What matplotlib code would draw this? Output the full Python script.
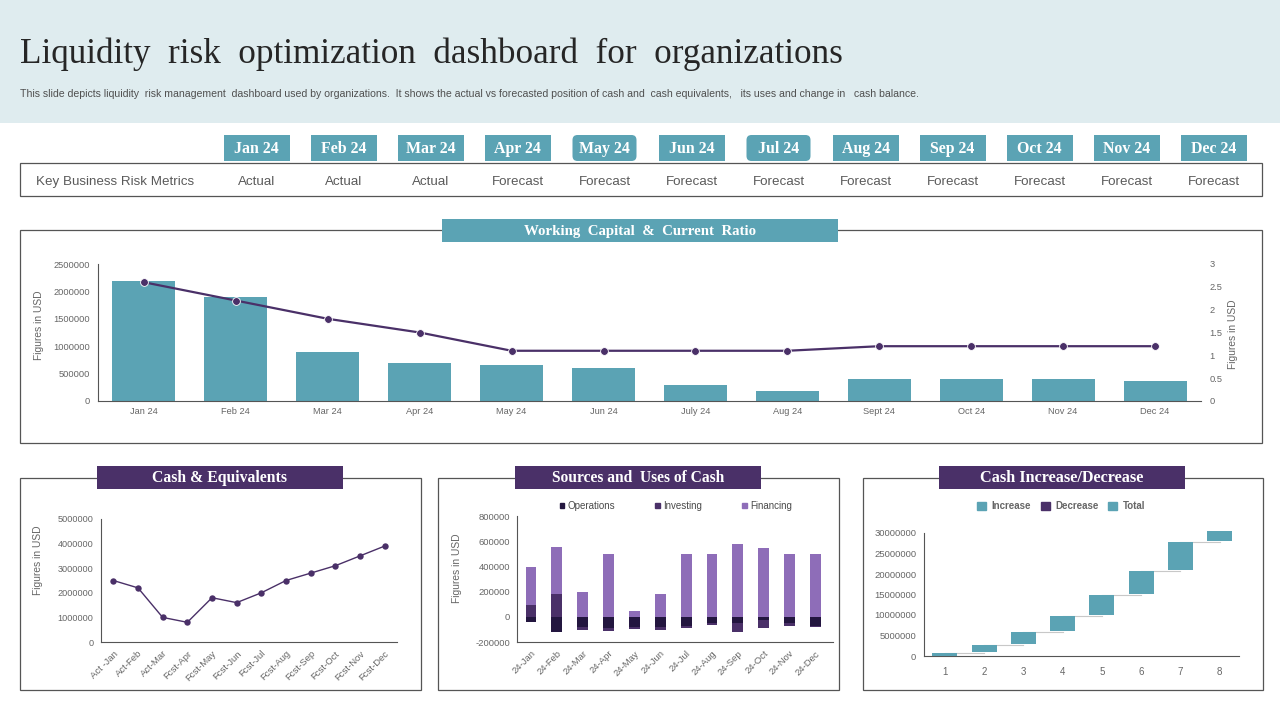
#! /usr/bin/env python

import matplotlib
matplotlib.use('Agg')
import matplotlib.pyplot as plt
from matplotlib.patches import Rectangle, FancyBboxPatch, Patch

#======================================================
# data
months = ['Jan 24','Feb 24','Mar 24','Apr 24','May 24','Jun 24','Jul 24','Aug 24','Sep 24','Oct 24','Nov 24','Dec 24']
status = ['Actual','Actual','Actual','Forecast','Forecast','Forecast','Forecast','Forecast','Forecast','Forecast','Forecast','Forecast']

wc_labels = ['Jan 24','Feb 24','Mar 24','Apr 24','May 24','Jun 24','July 24','Aug 24','Sept 24','Oct 24','Nov 24','Dec 24']
working_capital = [2190000,1890000,900000,700000,650000,600000,300000,190000,400000,400000,400000,370000]
current_ratio = [2.6,2.2,1.8,1.5,1.1,1.1,1.1,1.1,1.2,1.2,1.2,1.2]

cash_labels = ['Act -Jan','Act-Feb','Act-Mar','Fcst-Apr','Fcst-May','Fcst-Jun','Fcst-Jul','Fcst-Aug','Fcst-Sep','Fcst-Oct','Fcst-Nov','Fcst-Dec']
cash_values = [2500000,2200000,1000000,800000,1800000,1600000,2000000,2500000,2800000,3100000,3500000,3900000]

su_labels = ['24-Jan','24-Feb','24-Mar','24-Apr','24-May','24-Jun','24-Jul','24-Aug','24-Sep','24-Oct','24-Nov','24-Dec']
operations = [-40000,-120000,-80000,-90000,-80000,-80000,-75000,-50000,-50000,-25000,-50000,-75000]
investing_pos = [93000,180000,0,0,0,0,0,0,0,0,0,0]
investing_neg = [0,0,-25000,-20000,-20000,-25000,-12000,-13000,-70000,-65000,-20000,-5000]
financing = [302000,373000,196000,498000,45000,180000,498000,498000,578000,545000,498000,498000]

step_labels = ['1','2','3','4','5','6','7','8']
step_bottom = [0,1050000,3000000,6150000,10050000,15150000,21000000,28050000]
step_top = [800000,2750000,5900000,9800000,14900000,20750000,27800000,30500000]

#======================================================
TEAL = '#5BA3B4'
PURPLE = '#4A3068'
DARK = '#23163F'
LILAC = '#8E6DB8'
LINE = '#555555'
GREY = '#666666'
SANS = 'Liberation Sans'
SERIF = 'Liberation Serif'

plt.rcParams['font.family'] = SANS

fig = plt.figure(figsize=(12.8,7.2),dpi=100,facecolor='white')

# page layer in pixel coordinates
bg = fig.add_axes([0,0,1,1],zorder=0)
bg.set_xlim(0,1280)
bg.set_ylim(720,0)
bg.axis('off')

top = fig.add_axes([0,0,1,1],zorder=5)
top.set_xlim(0,1280)
top.set_ylim(720,0)
top.axis('off')
top.patch.set_alpha(0)


def px_axes(l,t,r,b):
    ax = fig.add_axes([l/1280,1-b/720,(r-l)/1280,(b-t)/720],zorder=2)
    ax.patch.set_alpha(0)
    for s in ['top','right']:
        ax.spines[s].set_visible(False)
    for s in ['left','bottom']:
        ax.spines[s].set_color(LINE)
        ax.spines[s].set_linewidth(0.8)
    ax.tick_params(length=0,labelsize=6.7,labelcolor=GREY)
    return ax


def panel(l,t,r,b):
    bg.add_patch(Rectangle((l,t),r-l,b-t,fill=False,ec=LINE,lw=0.9))


def band(l,t,r,b,text,color,size):
    top.add_patch(Rectangle((l,t),r-l,b-t,fc=color,ec='none'))
    top.text((l+r)/2,(t+b)/2+1,text,color='white',family=SERIF,fontweight='bold',
             fontsize=size,ha='center',va='center')


# header
bg.add_patch(Rectangle((0,0),1280,123,fc='#DFECEF',ec='none'))
bg.text(20,54,'Liquidity  risk  optimization  dashboard  for  organizations',family=SERIF,
        fontsize=25.3,color='#262626',ha='left',va='center')
bg.text(20,94,'This slide depicts liquidity  risk management  dashboard used by organizations.  It shows the actual vs forecasted position of cash and  cash equivalents,   its uses and change in   cash balance.',
        fontsize=7.58,color='#505050',ha='left',va='center')

# month tabs and metric row
tab_x = [256.5,343.5,430.5,517.5,604.5,691.5,778.5,865.5,952.5,1039.5,1126.5,1213.5]
for i,m in enumerate(months):
    if m in ('May 24','Jul 24'):
        bg.add_patch(FancyBboxPatch((tab_x[i]-29,138),58,20,boxstyle='round,pad=3,rounding_size=5',fc=TEAL,ec='none'))
    else:
        bg.add_patch(Rectangle((tab_x[i]-33,135),66,26,fc=TEAL,ec='none'))
    bg.text(tab_x[i],153,m,color='white',family=SERIF,fontweight='bold',fontsize=11.4,ha='center',va='baseline')
    bg.text(tab_x[i],185,status[i],color='#5A5A5A',fontsize=9.6,ha='center',va='baseline')
panel(20,163,1262,196)
bg.text(36,185,'Key Business Risk Metrics',color='#5A5A5A',fontsize=9.6,ha='left',va='baseline')

# panels
panel(20,230,1262,443)
band(442,219,838,242,'Working  Capital  &  Current  Ratio',TEAL,10.7)
panel(20,478,421,690)
band(97,466,343,489,'Cash & Equivalents',PURPLE,11.3)
panel(438,478,839,690)
band(515,466,761,489,'Sources and  Uses of Cash',PURPLE,11.2)
panel(863,478,1263,690)
band(939,466,1185,489,'Cash Increase/Decrease',PURPLE,11.7)

#=========================================================
# working capital and current ratio
ax = px_axes(98,264,1201,401)
x = list(range(12))
ax.bar(x,working_capital,width=0.685,color=TEAL)
ax.set_xlim(-0.5,11.5)
ax.set_ylim(0,2500000)
ax.set_yticks([0,500000,1000000,1500000,2000000,2500000])
ax.set_yticklabels(['0','500000','1000000','1500000','2000000','2500000'])
ax.set_xticks(x)
ax.set_xticklabels(wc_labels,va='baseline')
ax.tick_params(axis='y',pad=5.5)
ax.tick_params(axis='x',pad=9.7)

ax2 = ax.twinx()
ax2.patch.set_alpha(0)
ax2.plot(x,current_ratio,color=PURPLE,lw=1.6,marker='o',ms=5.6,mec='white',mew=0.6)
ax2.set_ylim(0,3)
ax2.set_yticks([0,0.5,1,1.5,2,2.5,3])
ax2.set_yticklabels(['0','0.5','1','1.5','2','2.5','3'])
ax2.tick_params(length=0,labelsize=6.7,labelcolor=GREY,pad=6)
for s in ax2.spines.values():
    s.set_visible(False)
bg.text(39,325,'Figures in USD',rotation=90,fontsize=7.4,color=GREY,ha='center',va='center')
bg.text(1233,334,'Figures in USD',rotation=90,fontsize=7.4,color=GREY,ha='center',va='center')

#=========================================================
# cash and equivalents
ax = px_axes(101,519,397,642)
ax.plot(x,cash_values,color=PURPLE,lw=1.0,marker='o',ms=4.6,mec=PURPLE,mew=0)
ax.set_xlim(-0.5,11.5)
ax.set_ylim(0,5000000)
ax.set_yticks([0,1000000,2000000,3000000,4000000,5000000])
ax.set_yticklabels(['0','1000000','2000000','3000000','4000000','5000000'])
ax.tick_params(axis='y',labelsize=6.6,pad=5.5)
ax.set_xticks(x)
ax.set_xticklabels(cash_labels,rotation=45,ha='right',rotation_mode='anchor',fontsize=6.8)
ax.tick_params(axis='x',pad=5)
bg.text(38,560,'Figures in USD',rotation=90,fontsize=7.4,color=GREY,ha='center',va='center')

#=========================================================
# sources and uses of cash
ax = px_axes(517,516,833,642)
w = 0.42
ax.bar(x,operations,width=w,color=DARK)
ax.bar(x,investing_neg,width=w,bottom=operations,color=PURPLE)
ax.bar(x,investing_pos,width=w,color=PURPLE)
ax.bar(x,financing,width=w,bottom=investing_pos,color=LILAC)
ax.set_xlim(-0.54,11.68)
ax.set_ylim(-200000,800000)
ax.set_yticks([-200000,0,200000,400000,600000,800000])
ax.set_yticklabels(['-200000','0','200000','400000','600000','800000'])
ax.tick_params(axis='y',labelsize=6.8,pad=5)
ax.set_xticks(x)
ax.set_xticklabels(su_labels,rotation=45,ha='right',rotation_mode='anchor',fontsize=6.8)
ax.tick_params(axis='x',pad=5)
bg.text(457,568,'Figures in USD',rotation=90,fontsize=7.4,color=GREY,ha='center',va='center')
handles = [Patch(color=DARK,label='Operations'),Patch(color=PURPLE,label='Investing'),Patch(color=LILAC,label='Financing')]
fig.legend(handles=handles,ncol=3,loc='center',bbox_to_anchor=(676/1280,1-506/720),frameon=False,
           fontsize=7.0,handlelength=0.5,handleheight=0.5,handletextpad=0.35,columnspacing=4.1,labelcolor='#4A4A4A')

#=========================================================
# cash increase / decrease waterfall
ax = px_axes(924,533,1239,656)
xs = list(range(8))
heights = [b-a for a,b in zip(step_bottom,step_top)]
ax.bar(xs,heights,bottom=step_bottom,width=0.635,color=TEAL,clip_on=False,zorder=3)
for i in xs[:-1]:
    ax.plot([i,i+1],[step_top[i],step_top[i]],color='#C8C8C8',lw=0.8,zorder=1,clip_on=False)
ax.set_xlim(-0.53,7.49)
ax.set_ylim(0,30000000)
ax.set_yticks([0,5000000,10000000,15000000,20000000,25000000,30000000])
ax.set_yticklabels(['0','5000000','10000000','15000000','20000000','25000000','30000000'])
ax.tick_params(axis='y',labelsize=6.8,pad=5.5)
ax.set_xticks(xs)
ax.set_xticklabels(step_labels,fontsize=7,va='baseline')
ax.tick_params(axis='x',pad=13.5)
handles = [Patch(color=TEAL,label='Increase'),Patch(color=PURPLE,label='Decrease'),Patch(color=TEAL,label='Total')]
leg = fig.legend(handles=handles,ncol=3,loc='center',bbox_to_anchor=(1061/1280,1-506/720),frameon=False,
                 fontsize=7,handlelength=0.95,handleheight=0.85,handletextpad=0.55,columnspacing=1.0,labelcolor=GREY)
for t in leg.get_texts():
    t.set_fontweight('bold')

fig.savefig('out.png',dpi=100)
